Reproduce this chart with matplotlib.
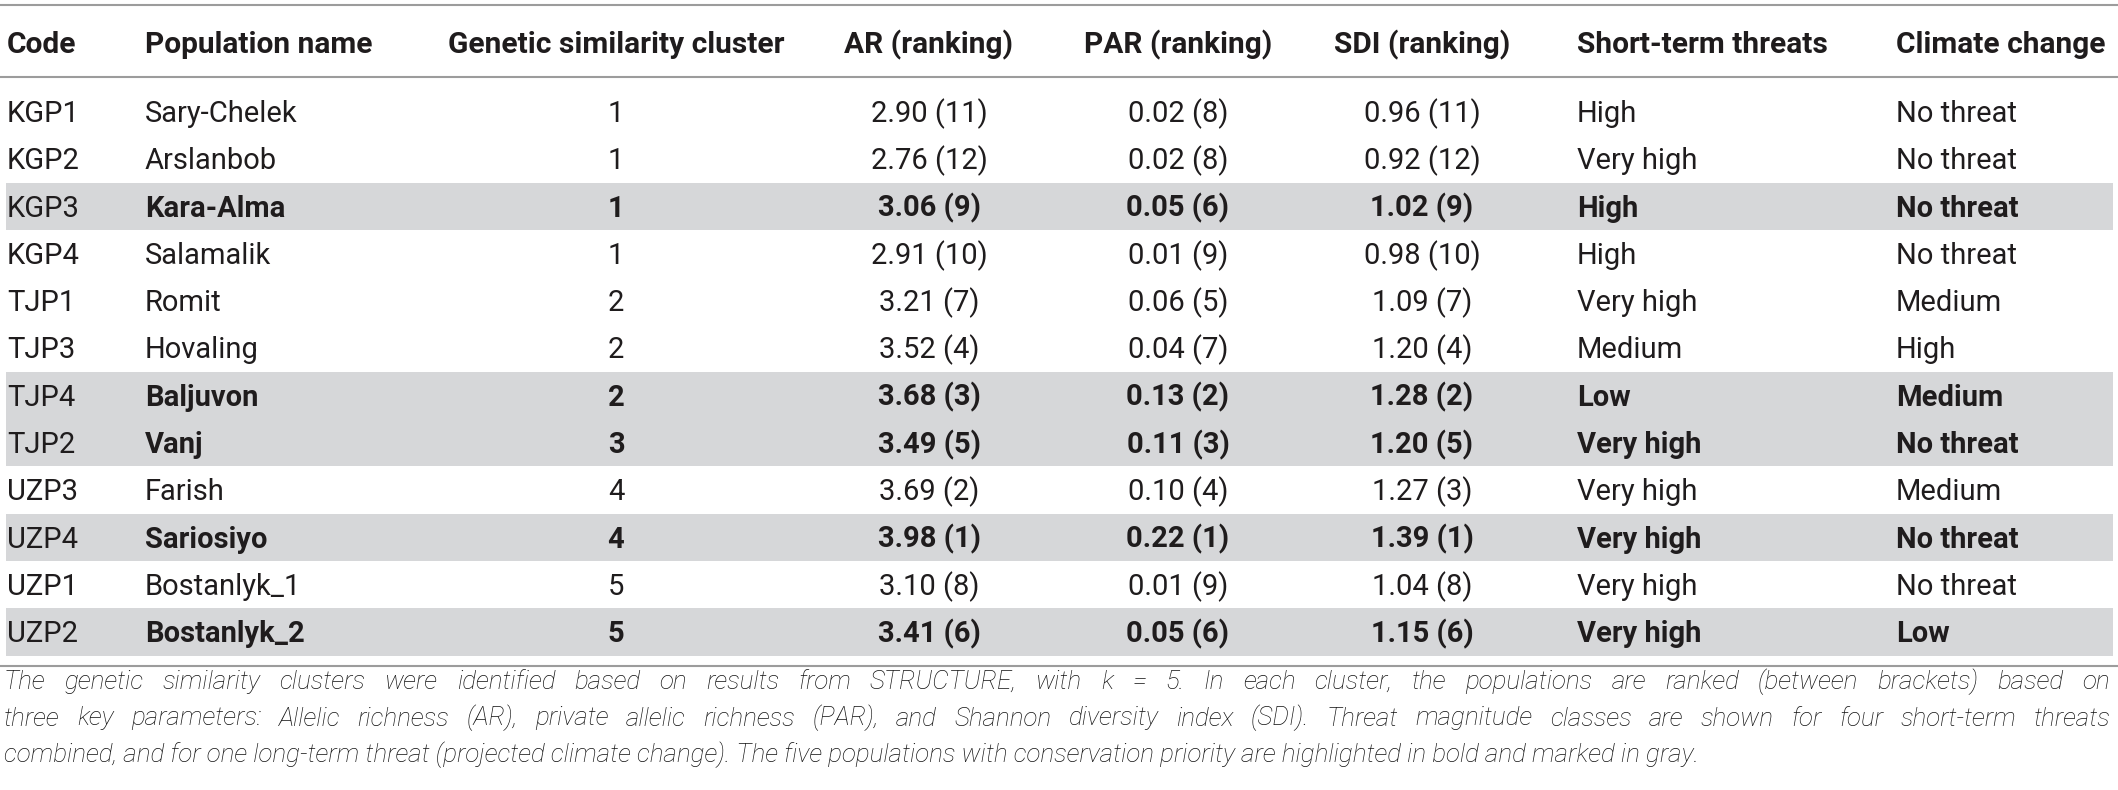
import matplotlib
matplotlib.use("Agg")
import matplotlib.pyplot as plt
from matplotlib.patches import Rectangle

headers = ["Code", "Population name", "Genetic similarity cluster", "AR (ranking)",
           "PAR (ranking)", "SDI (ranking)", "Short-term threats", "Climate change"]
codes = ["KGP1", "KGP2", "KGP3", "KGP4", "TJP1", "TJP3", "TJP4", "TJP2",
         "UZP3", "UZP4", "UZP1", "UZP2"]
names = ["Sary-Chelek", "Arslanbob", "Kara-Alma", "Salamalik", "Romit", "Hovaling",
         "Baljuvon", "Vanj", "Farish", "Sariosiyo", "Bostanlyk_1", "Bostanlyk_2"]
clusters = [1, 1, 1, 1, 2, 2, 2, 3, 4, 4, 5, 5]
ar = [2.90, 2.76, 3.06, 2.91, 3.21, 3.52, 3.68, 3.49, 3.69, 3.98, 3.10, 3.41]
ar_rank = [11, 12, 9, 10, 7, 4, 3, 5, 2, 1, 8, 6]
par = [0.02, 0.02, 0.05, 0.01, 0.06, 0.04, 0.13, 0.11, 0.10, 0.22, 0.01, 0.05]
par_rank = [8, 8, 6, 9, 5, 7, 2, 3, 4, 1, 9, 6]
sdi = [0.96, 0.92, 1.02, 0.98, 1.09, 1.20, 1.28, 1.20, 1.27, 1.39, 1.04, 1.15]
sdi_rank = [11, 12, 9, 10, 7, 4, 2, 5, 3, 1, 8, 6]
short_term = ["High", "Very high", "High", "High", "Very high", "Medium", "Low",
              "Very high", "Very high", "Very high", "Very high", "Very high"]
climate = ["No threat", "No threat", "No threat", "No threat", "Medium", "High",
           "Medium", "No threat", "Medium", "No threat", "No threat", "Low"]
priority = [False, False, True, False, False, False, True, True, False, True, False, True]

footnote = [
    "The genetic similarity clusters were identified based on results from STRUCTURE, "
    "with k = 5. In each cluster, the populations are ranked (between brackets) based on",
    "three key parameters: Allelic richness (AR), private allelic richness (PAR), and "
    "Shannon diversity index (SDI). Threat magnitude classes are shown for four short-term threats",
    "combined, and for one long-term threat (projected climate change). The five "
    "populations with conservation priority are highlighted in bold and marked in gray.",
]

W, H = 2118, 790
ink = "#1f1c1d"
fig = plt.figure(figsize=(W / 100, H / 100), dpi=100)
ax = fig.add_axes([0, 0, 1, 1])
ax.set_xlim(0, W)
ax.set_ylim(H, 0)
ax.axis("off")

col_x = [7, 145, 616, 929, 1178, 1422, 1577, 1896]
col_ha = ["left", "left", "center", "center", "center", "center", "left", "left"]
font = "Roboto"
head_size = 21.5
body_size = 21

# horizontal rules
for y in (5, 77, 666):
    ax.axhline(y, color="#9c9c9c", lw=1.5)

for x, ha, h in zip(col_x, col_ha, headers):
    ax.text(x, 53, h, ha=ha, va="baseline", family=font, weight="bold",
            fontsize=head_size, color=ink)

base0, pitch = 122, 47.3
for i in range(len(codes)):
    y = base0 + i * pitch
    if priority[i]:
        ax.add_patch(Rectangle((6, y - 34), W - 11, pitch,
                               color="#d6d7d9", lw=0, zorder=0))
    cells = [codes[i], names[i], str(clusters[i]),
             "%.2f (%d)" % (ar[i], ar_rank[i]),
             "%.2f (%d)" % (par[i], par_rank[i]),
             "%.2f (%d)" % (sdi[i], sdi_rank[i]),
             short_term[i], climate[i]]
    for j, (x, ha, c) in enumerate(zip(col_x, col_ha, cells)):
        w = "bold" if priority[i] and j > 0 else "normal"
        ax.text(x, y, c, ha=ha, va="baseline", family=font, weight=w,
                fontsize=body_size, color=ink)

# footnote, justified like the journal layout
renderer = fig.canvas.get_renderer()
x0, x1 = 4, 2110
for k, line in enumerate(footnote):
    y = 689 + k * 36.5
    words = line.split(" ")
    texts = [ax.text(x0, y, wd, ha="left", va="baseline", family=font, weight="light",
                     style="italic", fontsize=18.7, color="#111111") for wd in words]
    if k == len(footnote) - 1:
        for t in texts[1:]:
            t.remove()
        texts[0].set_text(line)
        continue
    widths = [t.get_window_extent(renderer).width for t in texts]
    gap = (x1 - x0 - sum(widths)) / (len(words) - 1)
    x = x0
    for t, wd in zip(texts, widths):
        t.set_x(x)
        x += wd + gap

fig.savefig("out.png", dpi=100, facecolor="white")
